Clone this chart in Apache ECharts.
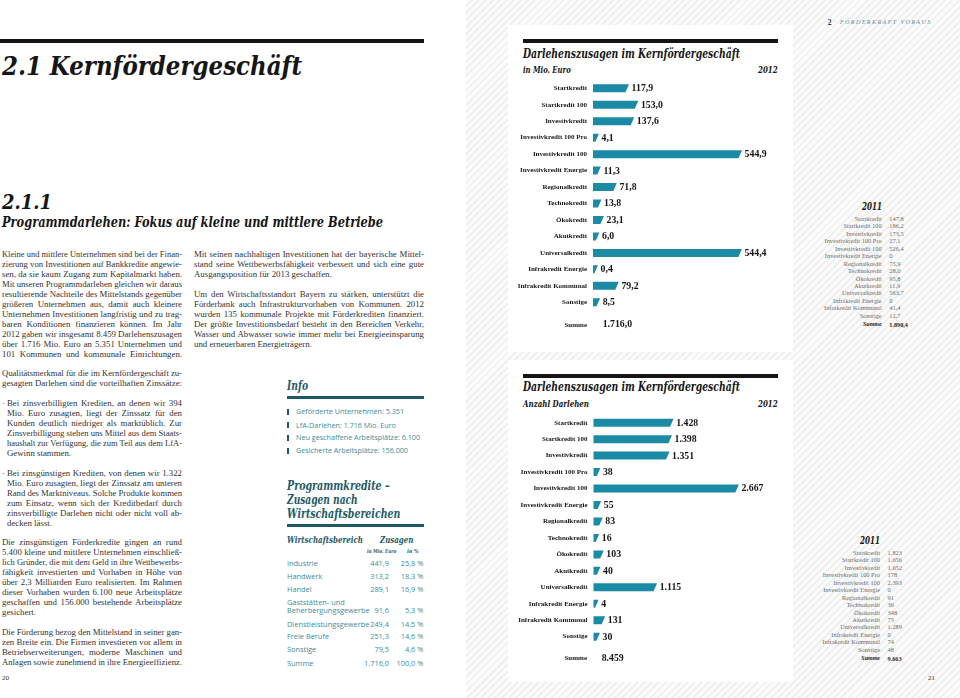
<!DOCTYPE html>
<html><head><meta charset="utf-8">
<script src="https://cdn.jsdelivr.net/npm/echarts@6/dist/echarts.min.js"></script>
<style>
html,body{margin:0;padding:0;width:960px;height:698px;overflow:hidden;background:#fff;}
#page{position:relative;width:960px;height:698px;overflow:hidden;}
.hatch{position:absolute;left:466px;top:0;width:494px;height:698px;
 background:repeating-linear-gradient(135deg,#fbfbfb 0px,#fbfbfb 3px,#f0f0f0 3px,#f0f0f0 5px);}
.card{position:absolute;background:#fff;}
.rule{position:absolute;background:#141414;}
.t{position:absolute;white-space:nowrap;display:inline-block;transform-origin:0 50%;}
.slab{font-family:"DejaVu Serif Condensed","DejaVu Serif",serif;font-weight:bold;font-style:italic;}
.blk{position:absolute;font-family:"Liberation Serif",serif;font-size:8.8px;color:#333;}
.ln{white-space:nowrap;text-align:left;transform-origin:0 50%;}
.sans{font-family:"Open Sans","Noto Sans",sans-serif;color:#3a8e9d;}
.teal{color:#1d5a69;}
.t11{font-family:"Liberation Serif",serif;font-size:6.4px;color:#6e6e6e;}
#chart{position:absolute;left:0;top:0;width:960px;height:698px;z-index:5;}
</style></head>
<body><div id="page">
<div class="hatch"></div>
<div class="card" style="left:508px;top:25px;width:285px;height:327px"></div>
<div class="card" style="left:508px;top:360px;width:285px;height:322px"></div>
<div class="rule" style="left:0;top:38.5px;width:424px;height:4px"></div>
<div class="rule" style="left:523px;top:38.5px;width:255px;height:4px"></div>
<div class="rule" style="left:523px;top:373.5px;width:255px;height:4px"></div>
<div class="rule" style="left:287px;top:395.5px;width:137px;height:3px;background:#1d5a69"></div>
<div class="rule" style="left:287px;top:523.5px;width:137px;height:3px;background:#1d5a69"></div>
</div>
<div id="chart"></div>
<script>
// ---------- DATA ----------
const categories = ['Startkredit','Startkredit 100','Investivkredit','Investivkredit 100 Pro','Investivkredit 100','Investivkredit Energie','Regionalkredit','Technokredit','Ökokredit','Akutkredit','Universalkredit','Infrakredit Energie','Infrakredit Kommunal','Sonstige'];
const volume2012 = [117.9,153.0,137.6,4.1,544.9,11.3,71.8,13.8,23.1,6.0,544.4,0.4,79.2,8.5];
const volume2011 = [147.8,186.2,173.5,27.1,526.4,0,75.9,28.0,95.8,11.9,563.7,0,41.4,12.7];
const count2012 = [1428,1398,1351,38,2667,55,83,16,103,40,1115,4,131,30];
const count2011 = [1823,1656,1652,178,2393,0,91,36,348,75,1289,0,74,48];
const sectors = ['Industrie','Handwerk','Handel','Gaststätten- und|Beherbergungsgewerbe','Dienstleistungsgewerbe','Freie Berufe','Sonstige'];
const sectorMio = [441.9,313.2,289.1,91.6,249.4,251.3,79.5];
const sectorPct = [25.8,18.3,16.9,5.3,14.5,14.6,4.6];
const infoItems = ['Geförderte Unternehmen: 5.351','LfA-Darlehen: 1.716 Mio. Euro','Neu geschaffene Arbeitsplätze: 6.100','Gesicherte Arbeitsplätze: 156.000'];

// ---------- helpers ----------
function grp(s){return s.replace(/\B(?=(\d{3})+(?!\d))/g,'.');}
function fmtMio(v){ if(v===0) return '0'; const p=v.toFixed(1).split('.'); return grp(p[0])+','+p[1]; }
function fmtInt(v){ return grp(String(Math.round(v))); }
const sum = a => a.reduce((s,x)=>s+x,0);
const page = document.getElementById('page');
const fits = [];
function T(txt, left, cy, fs, cls, w, extra){
  const e=document.createElement('div'); e.className='t '+(cls||''); e.textContent=txt;
  e.style.fontSize=fs+'px'; e.style.lineHeight=(fs*1.2)+'px';
  e.style.left=left+'px'; e.style.top=(cy-fs*0.6)+'px';
  if(extra) Object.assign(e.style, extra);
  page.appendChild(e); if(w) fits.push([e,w]); return e;
}
function TR(txt, right, cy, fs, cls, extra){
  const e=T(txt,0,cy,fs,cls,null,extra); e.style.left=''; e.style.right=(960-right)+'px'; return e;
}
const lines=[];
function block(x,y0,w,arr){
  const d=document.createElement('div'); d.className='blk'; d.style.left=x+'px'; d.style.top=(y0-5.6)+'px'; d.style.width=w+'px';
  arr.forEach(t=>{ const l=document.createElement('div'); l.className='ln'; l.style.height='10px'; l.style.lineHeight='10px';
    if(t!==''){ let left=false; if(t.endsWith('¶')){left=true;t=t.slice(0,-1);} const s=document.createElement('span'); s.textContent=t; l.appendChild(s); lines.push([l,s,w,left]); }
    d.appendChild(l); });
  page.appendChild(d);
}

// ---------- left page ----------
T('2.1 Kernfördergeschäft',2,66.5,26,'slab',300,{color:'#161616'});
T('2.1.1',2,201.8,20,'slab',50,{color:'#161616'});
T('Programmdarlehen: Fokus auf kleine und mittlere Betriebe',2,222,14,'slab',381,{color:'#161616'});
block(2,255,180,['Kleine und mittlere Unternehmen sind bei der Finan-','zierung von Investitionen auf Bankkredite angewie-','sen, da sie kaum Zugang zum Kapitalmarkt haben.','Mit unseren Programmdarlehen gleichen wir daraus','resultierende Nachteile des Mittelstands gegenüber','größeren Unternehmen aus, damit auch kleinere','Unternehmen Investitionen langfristig und zu trag-','baren Konditionen finanzieren können. Im Jahr','2012 gaben wir insgesamt 8.459 Darlehenszusagen','über 1.716 Mio. Euro an 5.351 Unternehmen und','101 Kommunen und kommunale Einrichtungen.']);
block(194,255,230,['Mit seinen nachhaltigen Investitionen hat der bayerische Mittel-','stand seine Wettbewerbsfähigkeit verbessert und sich eine gute','Ausgangsposition für 2013 geschaffen.¶','','Um den Wirtschaftsstandort Bayern zu stärken, unterstützt die','Förderbank auch Infrastrukturvorhaben von Kommunen. 2012','wurden 135 kommunale Projekte mit Förderkrediten finanziert.','Der größte Investitionsbedarf besteht in den Bereichen Verkehr,','Wasser und Abwasser sowie immer mehr bei Energieeinsparung','und erneuerbaren Energieträgern.¶']);
block(2,373.3,180,['Qualitätsmerkmal für die im Kernfördergeschäft zu-','gesagten Darlehen sind die vorteilhaften Zinssätze:']);
block(7,403.3,175,['Bei zinsverbilligten Krediten, an denen wir 394','Mio. Euro zusagten, liegt der Zinssatz für den','Kunden deutlich niedriger als marktüblich. Zur','Zinsverbilligung stehen uns Mittel aus dem Staats-','haushalt zur Verfügung, die zum Teil aus dem LfA-','Gewinn stammen.¶','','Bei zinsgünstigen Krediten, von denen wir 1.322','Mio. Euro zusagten, liegt der Zinssatz am unteren','Rand des Marktniveaus. Solche Produkte kommen','zum Einsatz, wenn sich der Kreditbedarf durch','zinsverbilligte Darlehen nicht oder nicht voll ab-','decken lässt.¶']);
T('·',2,403.3,9,'',null,{fontFamily:'Liberation Serif',color:'#333'});
T('·',2,473.3,9,'',null,{fontFamily:'Liberation Serif',color:'#333'});
block(2,542.7,180,['Die zinsgünstigen Förderkredite gingen an rund','5.400 kleine und mittlere Unternehmen einschließ-','lich Gründer, die mit dem Geld in ihre Wettbewerbs-','fähigkeit investierten und Vorhaben in Höhe von','über 2,3 Milliarden Euro realisierten. Im Rahmen','dieser Vorhaben wurden 6.100 neue Arbeitsplätze','geschaffen und 156.000 bestehende Arbeitsplätze','gesichert.¶','','Die Förderung bezog den Mittelstand in seiner gan-','zen Breite ein. Die Firmen investieren vor allem in','Betriebserweiterungen, moderne Maschinen und','Anlagen sowie zunehmend in ihre Energieeffizienz.']);
T('20',2,678,7,'',null,{fontFamily:'Liberation Serif',color:'#333'});
T('21',928,678,7,'',null,{fontFamily:'Liberation Serif',color:'#333'});

// Info box
T('Info',287,385.3,13,'slab teal',21);
const infoY=[411.7,425,437.7,450.7];
infoItems.forEach((s,i)=>{
  const b=document.createElement('div'); b.style.cssText='position:absolute;left:287px;width:2px;height:6px;background:#1d5a69;top:'+(infoY[i]-3)+'px'; page.appendChild(b);
  T(s,296,infoY[i],7.2,'sans',null);
});
T('Programmkredite –',287,486,13,'slab teal',102.7);
T('Zusagen nach',287,499.6,13,'slab teal',70.7);
T('Wirtschaftsbereichen',287,514,13,'slab teal',113.3);
T('Wirtschaftsbereich',287,539.3,9.5,'slab teal',76);
T('Zusagen',380,539.3,9.5,'slab teal',33.3);
T('in Mio. Euro',366.7,551.7,5.5,'slab teal',29.3);
T('in %',406.7,551.7,5.5,'slab teal',11.7);
const rowY=[563.3,576.7,589.7,610.7,624,636.7,649.7];
sectors.forEach((s,i)=>{
  const parts=s.split('|');
  if(parts.length>1){ T(parts[0],287,602.7,7.4,'sans'); T(parts[1],287,rowY[i],7.4,'sans'); }
  else T(s,287,rowY[i],7.4,'sans');
  TR(fmtMio(sectorMio[i]),389,rowY[i],7.4,'sans');
  TR(fmtMio(sectorPct[i])+' %',423.3,rowY[i],7.4,'sans');
});
T('Summe',287,663,7.4,'sans');
TR(fmtMio(sum(sectorMio)),389,663,7.4,'sans');
TR(fmtMio(sum(sectorPct))+' %',423.3,663,7.4,'sans');

// ---------- right page ----------
T('2',827.7,22,7.5,'',null,{fontFamily:'Liberation Serif',fontWeight:'bold',color:'#1d3f48'});
T('· FÖRDERKRAFT VORAUS',834,22,6.8,'',97.7,{fontFamily:'Liberation Serif',fontStyle:'italic',letterSpacing:'1.6px',color:'#5b8e98'});
[[53.8,70,'in Mio. Euro',47.7],[386.7,404.3,'Anzahl Darlehen',66]].forEach(([ty,sy,sub,sw])=>{
  T('Darlehenszusagen im Kernfördergeschäft',523,ty,13,'slab',217,{color:'#161616'});
  T(sub,523,sy,9,'slab',sw,{color:'#161616'});
  T('2012',758.3,sy,9,'slab',19.7,{color:'#161616'});
});
// 2011 tables
function table2011(top, right, vals, fmt){
  T('2011',right-20,top-12,10.5,'slab',20,{color:'#161616'});
  categories.forEach((c,i)=>{
    const y=top+i*7.46;
    TR(c,right,y,6.4,'t11');
    T(fmt(vals[i]),right+7.6,y,6.4,'t11');
  });
  const ys=top+13*7.46+9.3;
  TR('Summe',right,ys,6,'t11',{fontWeight:'bold',fontStyle:'italic',color:'#222'});
  T(fmt(sum(vals)),right+7.6,ys,6.2,'t11',null,{fontWeight:'bold',color:'#222'});
}
table2011(218.7,881.7,volume2011,fmtMio);
table2011(552.7,880,count2011,fmtInt);

// ---------- fit ----------
fits.forEach(([e,w])=>{ const ow=e.getBoundingClientRect().width; if(ow>0) e.style.transform='scaleX('+(w/ow)+')'; });
lines.forEach(([l,s,w,left])=>{
  const sw=s.getBoundingClientRect().width;
  if(sw>w){ l.style.transform='scaleX('+(w/sw)+')'; l.style.width=sw+'px'; }
  else if(!left){ l.style.textAlign='justify'; l.style.textAlignLast='justify'; }
});

// ---------- ECharts ----------
const BAR='#1b8ba5', INK='#161616', SL=3.5, BH=8;
const bandH=16.46;
function renderBars(min, fmt){
  return function(params, api){
    const v=api.value(0), i=api.value(1);
    const p=api.coord([v,i]); const x0=api.coord([min,i])[0];
    const xv=p[0], yc=p[1];
    return {type:'group',children:[
      {type:'polygon',shape:{points:[[x0,yc-BH/2],[xv+SL,yc-BH/2],[xv,yc+BH/2],[x0,yc+BH/2]]},style:{fill:BAR}},
      {type:'text',style:{text:fmt(v),x:xv+SL+2.6,y:yc+0.4,align:'left',verticalAlign:'middle',fill:INK,fontSize:9.8,fontWeight:'bold',fontFamily:'Liberation Serif'}}
    ]};
  };
}
const yAx = gi => ({type:'category',gridIndex:gi,data:categories,inverse:true,
  axisLine:{show:false},axisTick:{show:false},splitLine:{show:false},
  axisLabel:{margin:6,color:INK,fontSize:7,fontWeight:'bold',fontFamily:'Liberation Serif'}});
const chart=echarts.init(document.getElementById('chart'),null,{renderer:'canvas'});
chart.setOption({
  backgroundColor:'transparent',animation:false,
  grid:[{left:593,top:88.3-bandH/2,width:605*0.2646,height:14*bandH},
        {left:593.5,top:422.7-bandH/2,width:3025*0.0527,height:14*bandH}],
  xAxis:[{type:'value',gridIndex:0,min:-5,max:600,show:false},
         {type:'value',gridIndex:1,min:-25,max:3000,show:false}],
  yAxis:[yAx(0),yAx(1)],
  series:[
    {type:'custom',xAxisIndex:0,yAxisIndex:0,renderItem:renderBars(-5,fmtMio),encode:{x:0,y:1},data:volume2012.map((v,i)=>[v,i])},
    {type:'custom',xAxisIndex:1,yAxisIndex:1,renderItem:renderBars(-25,fmtInt),encode:{x:0,y:1},data:count2012.map((v,i)=>[v,i])}
  ],
  graphic:[
    {type:'text',style:{text:'Summe',x:587,y:324.7,align:'right',verticalAlign:'middle',fill:INK,fontSize:7,fontWeight:'bold',fontFamily:'Liberation Serif'}},
    {type:'text',style:{text:fmtMio(sum(volume2012)),x:602.7,y:324.7,align:'left',verticalAlign:'middle',fill:INK,fontSize:9.8,fontWeight:'bold',fontFamily:'Liberation Serif'}},
    {type:'text',style:{text:'Summe',x:587,y:658,align:'right',verticalAlign:'middle',fill:INK,fontSize:7,fontWeight:'bold',fontFamily:'Liberation Serif'}},
    {type:'text',style:{text:fmtInt(sum(count2012)),x:601.7,y:658,align:'left',verticalAlign:'middle',fill:INK,fontSize:9.8,fontWeight:'bold',fontFamily:'Liberation Serif'}}
  ]
});
</script>
</body></html>
